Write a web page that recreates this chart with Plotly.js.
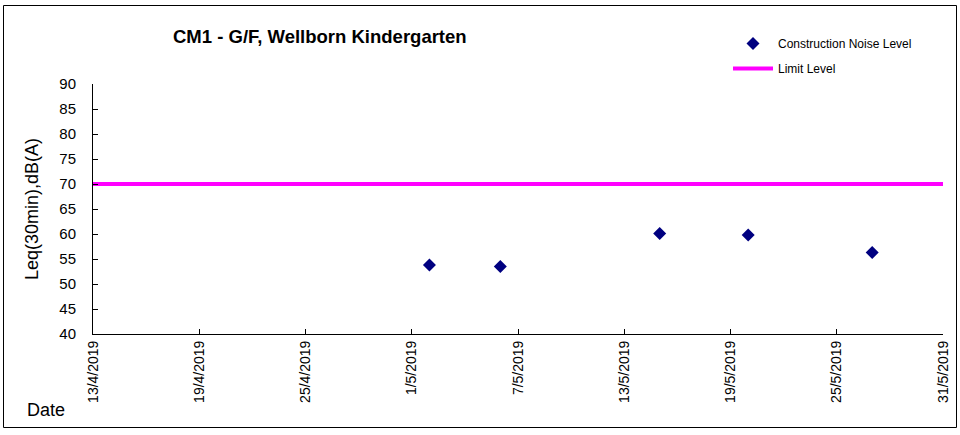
<!DOCTYPE html>
<html>
<head>
<meta charset="utf-8">
<script src="https://cdn.plot.ly/plotly-3.0.1.min.js"></script>
<style>html,body{margin:0;padding:0;background:#fff;}#chart{width:960px;height:435px;}</style>
</head>
<body>
<div id="chart"></div>
<script>
// Data
const noiseDates = ['2019-05-02', '2019-05-06', '2019-05-15', '2019-05-20', '2019-05-27'];
const noiseValues = [53.8, 53.5, 60.1, 59.8, 56.3];
const limitDates = ['2019-04-13', '2019-05-31'];
const limitValues = [70, 70];
const seriesNames = ['Construction Noise Level', 'Limit Level'];
const chartTitle = 'CM1 - G/F, Wellborn Kindergarten';
const yTitle = 'Leq(30min),dB(A)';
const xTitle = 'Date';

// Layout geometry (pixels)
const W = 960, H = 435;
const L = 93, R = 17, T = 84, B = 101;
const pw = W - L - R, ph = H - T - B;
const px = x => (x - L) / pw;
const py = y => (H - B - y) / ph;

const FONT = 'Liberation Sans, Arial, sans-serif';

const traces = [
  {
    x: noiseDates, y: noiseValues, type: 'scatter', mode: 'markers',
    name: seriesNames[0], legendgroup: 'a',
    marker: {symbol: 'diamond', size: 10, color: '#000080'}
  },
  {
    x: limitDates, y: limitValues, type: 'scatter', mode: 'lines',
    name: seriesNames[1], legendgroup: 'b',
    line: {color: '#FF00FF', width: 4}
  }
];

const layout = {
  width: W, height: H,
  margin: {l: L, r: R, t: T, b: B, pad: 0},
  paper_bgcolor: '#fff', plot_bgcolor: '#fff',
  font: {family: FONT, color: '#000'},
  showlegend: true,
  legend: {
    x: px(728), y: py(29), xanchor: 'left', yanchor: 'top',
    font: {size: 12, family: FONT, color: '#000'},
    bgcolor: 'rgba(0,0,0,0)', borderwidth: 0,
    itemwidth: 40,
    traceorder: 'grouped', tracegroupgap: 6
  },
  xaxis: {
    type: 'date',
    range: ['2019-04-13', '2019-05-31'],
    tick0: '2019-04-13', dtick: 6 * 86400000,
    tickformat: '%-d/%-m/%Y', tickangle: -90,
    ticks: 'inside', ticklen: 5, tickcolor: '#000', tickwidth: 1,
    showline: true, linecolor: '#000', linewidth: 1,
    showgrid: false, zeroline: false,
    tickfont: {size: 14, family: FONT, color: '#000'},
    fixedrange: true
  },
  yaxis: {
    range: [40, 90], dtick: 5, tick0: 40,
    ticks: 'inside', ticklen: 5, tickcolor: '#000', tickwidth: 1,
    showline: true, linecolor: '#000', linewidth: 1,
    showgrid: false, zeroline: false,
    tickfont: {size: 15, family: FONT, color: '#000'},
    ticklabelstandoff: 13,
    title: {text: yTitle, font: {size: 18, family: FONT, color: '#000'}, standoff: 16},
    fixedrange: true
  },
  annotations: [
    {
      text: '<b>' + chartTitle + '</b>', xref: 'paper', yref: 'paper',
      x: px(320), y: py(36), xanchor: 'center', yanchor: 'middle',
      showarrow: false, font: {size: 18.5, family: FONT, color: '#000'}
    },
    {
      text: xTitle, xref: 'paper', yref: 'paper',
      x: px(25), y: py(410), xanchor: 'left', yanchor: 'middle',
      showarrow: false, font: {size: 18, family: FONT, color: '#000'}
    }
  ],
  shapes: [
    {
      type: 'rect', xref: 'paper', yref: 'paper',
      x0: px(3.5), x1: px(956.5), y0: py(5.5), y1: py(427.5),
      line: {color: '#000', width: 1}, fillcolor: 'rgba(0,0,0,0)', layer: 'below'
    }
  ]
};

Plotly.newPlot('chart', traces, layout, {displayModeBar: false, staticPlot: true});
</script>
</body>
</html>
